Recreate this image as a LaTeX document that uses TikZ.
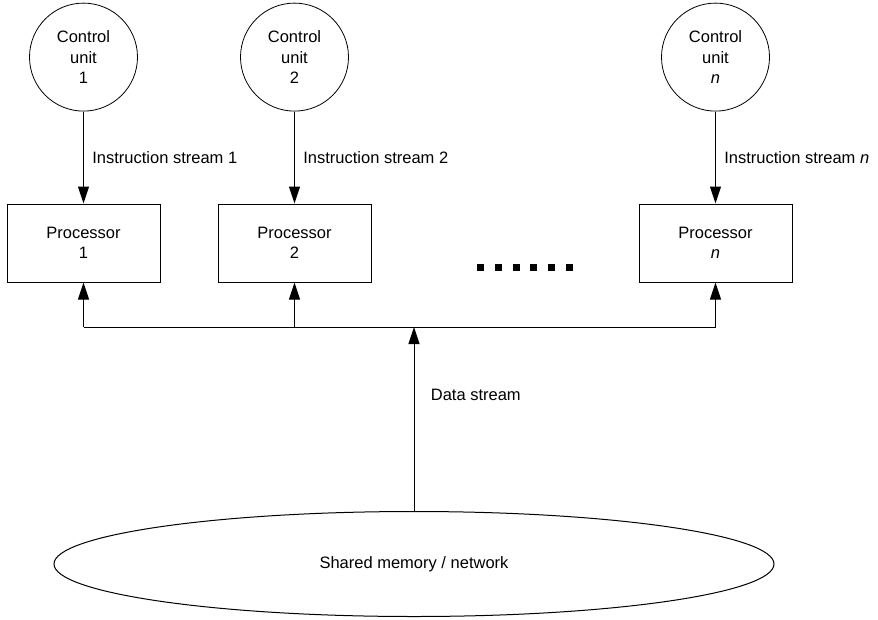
\documentclass[tikz,border=0pt]{standalone}
\usepackage{fontspec}
\setmainfont{Liberation Sans}
\usetikzlibrary{arrows.meta,positioning,shapes.geometric}

\begin{document}
\begin{tikzpicture}[x=1pt, y=-1pt, >={Triangle[length=17pt,width=11pt]}, line width=1pt,
  every node/.style={font=\fontsize{16.5}{20.5}\selectfont, align=center},
  unit/.style={draw, line width=.8pt, circle, minimum size=108pt, inner sep=0pt},
  proc/.style={draw, minimum width=153pt, minimum height=78pt, inner sep=0pt}]
  \useasboundingbox (0,0) rectangle (878,619);
  \node[proc] (p1) at (83.5,243) {Processor\\1};
  \node[proc, right=57pt of p1] (p2) {Processor\\2};
  \node[proc, right=267pt of p2] (pn) {Processor\\\textit{n}};
  \node[unit, above=92pt of p1] (c1) {Control\\unit\\1};
  \node[unit, above=92pt of p2] (c2) {Control\\unit\\2};
  \node[unit, above=92pt of pn] (cn) {Control\\unit\\\textit{n}};
  \node[draw, ellipse, minimum width=720pt, minimum height=105pt] (mem) at (414,564) {Shared memory / network};
  \coordinate (hub) at (414,327);
  \draw[->] (c1) -- node[right, xshift=5pt] {Instruction stream 1} (p1);
  \draw[->] (c2) -- node[right, xshift=5pt] {Instruction stream 2} (p2);
  \draw[->] (cn) -- node[right, xshift=5pt] {Instruction stream \textit{n}} (pn);
  % data bus
  \draw[->] (mem) -- node[right, pos=.63, xshift=13pt] {Data stream} (hub);
  \draw (p1 |- hub) -- (pn |- hub);
  \foreach \p in {p1,p2,pn}
    \draw[->] (\p |- hub) -- (\p);
  \foreach \i in {0,...,5}
    \fill (477+17.8*\i,263.5) rectangle +(7,7);
\end{tikzpicture}
\end{document}
